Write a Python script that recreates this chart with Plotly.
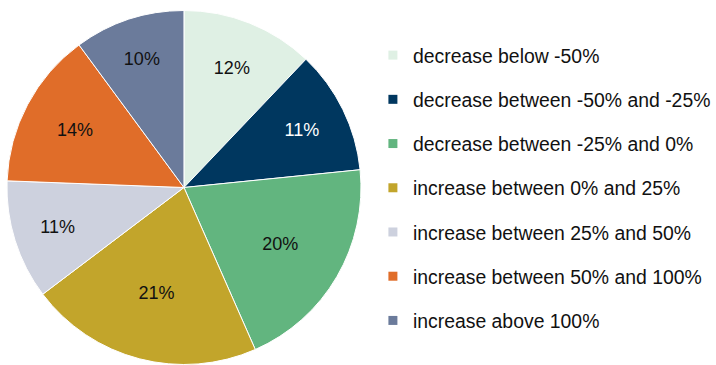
import plotly.graph_objects as go

categories = [
    "decrease below -50%",
    "decrease between -50% and -25%",
    "decrease between -25% and 0%",
    "increase between 0% and 25%",
    "increase between 25% and 50%",
    "increase between 50% and 100%",
    "increase above 100%",
]
shares = [12.1, 11.3, 20.0, 21.3, 10.9, 14.3, 10.1]
colors = ["#dff0e4", "#00375f", "#62b57f", "#c2a52b", "#cdd1de", "#e06d29", "#6b7b9b"]
text_colors = ["#111111", "#ffffff", "#111111", "#111111", "#111111", "#111111", "#111111"]

W, H = 716, 365
fig = go.Figure()
fig.add_trace(go.Pie(
    labels=categories, values=shares, sort=False, direction="clockwise", rotation=0,
    marker=dict(colors=colors, line=dict(color="white", width=1)),
    texttemplate="%{percent:.0%}", textposition="inside", insidetextorientation="horizontal",
    textfont=dict(family="Liberation Sans, Arial", size=18, color=text_colors),
    domain=dict(x=[7 / W, 363 / W], y=[0, 1]),
    showlegend=False, hoverinfo="label+percent",
))
for i, (c, col) in enumerate(zip(categories, colors)):
    fig.add_trace(go.Scatter(
        x=[None], y=[None], mode="markers", name=c, legendgroup=f"g{i}",
        marker=dict(symbol="square", size=9, color=col),
        showlegend=True,
    ))
fig.update_layout(
    width=W, height=H,
    margin=dict(l=0, r=0, t=10, b=0),
    paper_bgcolor="white", plot_bgcolor="white",
    xaxis=dict(visible=False), yaxis=dict(visible=False),
    legend=dict(x=375 / W, y=1 - 26 / (H - 10), xanchor="left", yanchor="top",
                font=dict(family="Liberation Sans, Arial", size=19.4, color="#111111"),
                tracegroupgap=16, itemwidth=30, bgcolor="rgba(0,0,0,0)"),
)
fig.write_html("out.html")
